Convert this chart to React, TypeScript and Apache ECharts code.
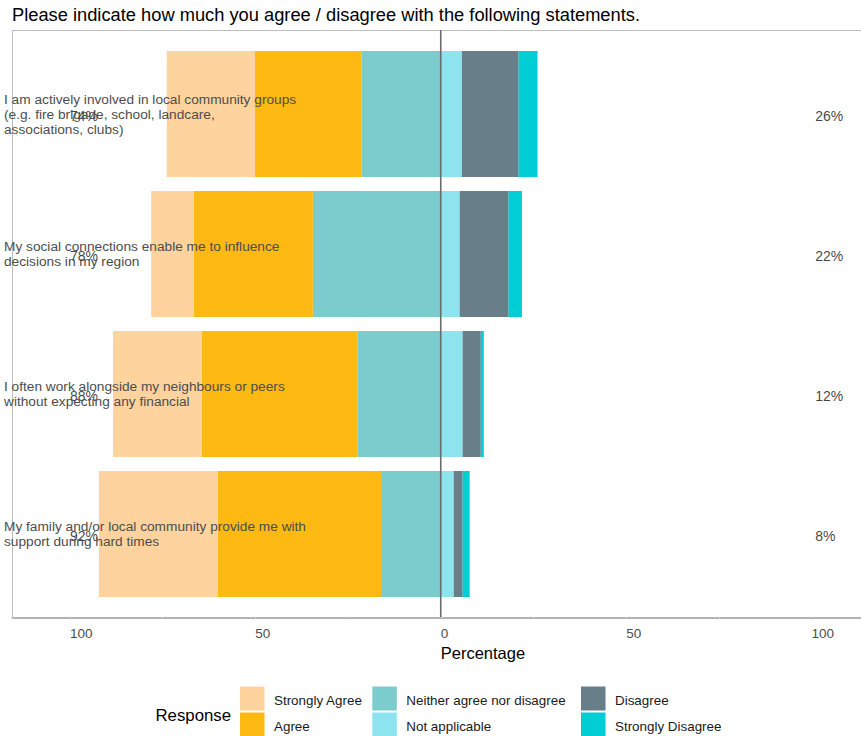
import React, { useEffect, useRef } from "react";
import * as echarts from "echarts";

const FONT = "'Liberation Sans', Arial, sans-serif";

const titleText = "Please indicate how much you agree / disagree with the following statements.";

const categories = [
  "I am actively involved in local community groups\n(e.g. fire brigade, school, landcare,\nassociations, clubs)",
  "My social connections enable me to influence\ndecisions in my region",
  "I often work alongside my neighbours or peers\nwithout expecting any financial",
  "My family and/or local community provide me with\nsupport during hard times",
];

const responses = [
  "Strongly Agree",
  "Agree",
  "Neither agree nor disagree",
  "Not applicable",
  "Disagree",
  "Strongly Disagree",
];

const responseColors = ["#FED39E", "#FEB913", "#7BCCCD", "#8DE4EE", "#687F89", "#00CDD4"];

// Percent of respondents per statement, by response
const strongAgree = [23.8, 11.5, 24.0, 32.1];
const agree = [28.8, 32.1, 41.9, 44.0];
const neither = [21.3, 34.5, 22.5, 16.1];
const notApplicable = [5.7, 5.1, 5.9, 3.5];
const disagree = [15.3, 13.2, 4.9, 2.4];
const strongDisagree = [5.1, 3.6, 0.8, 1.9];

const xTickLabels = [-100, -50, 0, 50, 100];
const xTicks = [-100, -75, -50, -25, 0, 25, 50, 75, 100];
const xMin = -115.5;
const xMax = 115.5;

// layout
const W = 861;
const H = 736;
const gridLeft = 12.5;
const gridRight = -8;
const gridTop = 44;
const gridHeight = 560;
const panelPad = 14;

export default function App() {
  const ref = useRef<HTMLDivElement>(null);

  useEffect(() => {
    if (!ref.current) return;
    const chart = echarts.init(ref.current, undefined, { renderer: "svg" });

    const leftTotals = categories.map((_, i) => strongAgree[i] + agree[i] + neither[i]);
    const rightTotals = categories.map((_, i) => notApplicable[i] + disagree[i] + strongDisagree[i]);

    const barSeries = (name: string, values: number[], sign: number) => ({
      type: "bar",
      name,
      stack: "total",
      barWidth: "90%",
      data: values.map((v) => sign * v),
      itemStyle: { color: responseColors[responses.indexOf(name)] },
      emphasis: { disabled: true },
    });

    const labelSeries = (x: number, totals: number[]) => ({
      type: "scatter",
      symbolSize: 0,
      z: 4,
      data: totals.map((t, i) => ({ value: [x, i], label: { formatter: `${Math.round(t)}%` } })),
      label: {
        show: true,
        position: "right",
        distance: 0,
        offset: [0, 2],
        fontFamily: FONT,
        fontSize: 14,
        color: "#111111",
      },
      emphasis: { disabled: true },
      silent: true,
    });

    chart.setOption({
      animation: false,
      backgroundColor: "#ffffff",
      title: {
        text: titleText,
        left: 7,
        top: 0,
        textStyle: { fontFamily: FONT, fontSize: 18.3, fontWeight: "normal", color: "#000" },
      },
      grid: {
        left: gridLeft,
        right: gridRight,
        top: gridTop,
        height: gridHeight,
        containLabel: false,
        outerBoundsMode: "none",
      },
      xAxis: {
        type: "value",
        min: xMin,
        max: xMax,
        offset: panelPad,
        name: "Percentage",
        nameLocation: "middle",
        nameGap: 26,
        nameTextStyle: { fontFamily: FONT, fontSize: 16.5, color: "#000", align: "left" },
        axisLine: { show: true, lineStyle: { color: "#b3b3b3", width: 2 } },
        axisTick: {
          show: true,
          inside: true,
          length: 2,
          customValues: xTicks,
          lineStyle: { color: "#e4e4e4" },
        },
        axisLabel: {
          customValues: xTickLabels,
          align: "left",
          margin: 8,
          fontFamily: FONT,
          fontSize: 13.5,
          color: "#4d4d4d",
          formatter: (v: number) => String(Math.abs(v)),
        },
        splitLine: { show: false },
      },
      yAxis: {
        type: "category",
        inverse: true,
        data: categories,
        z: 6,
        axisLine: { show: false },
        axisTick: { show: false },
        axisLabel: {
          align: "left",
          margin: 8.5,
          fontFamily: FONT,
          fontSize: 13.7,
          lineHeight: 15,
          color: "#4d4d4d",
        },
      },
      series: [
        barSeries("Neither agree nor disagree", neither, -1),
        barSeries("Agree", agree, -1),
        barSeries("Strongly Agree", strongAgree, -1),
        barSeries("Not applicable", notApplicable, 1),
        barSeries("Disagree", disagree, 1),
        barSeries("Strongly Disagree", strongDisagree, 1),
        labelSeries(-100, leftTotals),
        labelSeries(101, rightTotals),
      ],
    });

    // panel frame, zero line and legend
    const zeroX = chart.convertToPixel({ xAxisIndex: 0 }, 0) as number;
    const panelTop = gridTop - panelPad;
    const panelBottom = gridTop + gridHeight + panelPad;

    const legendCols = [240, 372.3, 581];
    const legendRows = [686.5, 712.5];
    const legendItems: any[] = [];
    responses.forEach((name, i) => {
      const col = Math.floor(i / 2);
      const row = i % 2;
      const x = legendCols[col];
      const y = legendRows[row];
      legendItems.push({
        type: "rect",
        shape: { x, y, width: 24.5, height: 24 },
        style: { fill: responseColors[i] },
      });
      legendItems.push({
        type: "text",
        x: x + 34,
        y: y + 13.5,
        style: {
          text: name,
          fontFamily: FONT,
          fontSize: 13.4,
          fill: "#1a1a1a",
          verticalAlign: "middle",
          align: "left",
        },
      });
    });

    chart.setOption({
      graphic: [
        {
          type: "line",
          shape: { x1: gridLeft, y1: panelTop, x2: gridLeft, y2: panelBottom },
          style: { stroke: "#bdbdbd", lineWidth: 1 },
          z: 1,
        },
        {
          type: "line",
          shape: { x1: gridLeft, y1: panelTop + 0.5, x2: W, y2: panelTop + 0.5 },
          style: { stroke: "#bdbdbd", lineWidth: 1 },
          z: 1,
        },
        {
          type: "line",
          shape: { x1: zeroX, y1: panelTop, x2: zeroX, y2: panelBottom - 1 },
          style: { stroke: "#6b6b6b", lineWidth: 1.6 },
          z: 10,
        },
        {
          type: "text",
          x: 155.5,
          y: 715,
          style: {
            text: "Response",
            fontFamily: FONT,
            fontSize: 16.8,
            fill: "#000",
            verticalAlign: "middle",
            align: "left",
          },
        },
        ...legendItems,
      ],
    });

    return () => chart.dispose();
  }, []);

  return (
    <div
      ref={ref}
      style={{ position: "fixed", left: 0, top: 0, width: W, height: H, background: "#fff" }}
    />
  );
}
